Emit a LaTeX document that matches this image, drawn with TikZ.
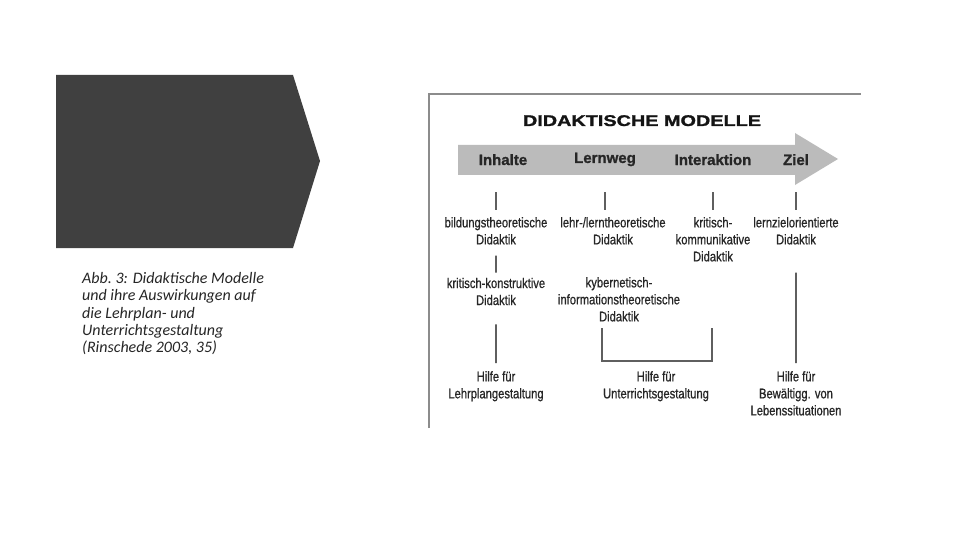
\documentclass[tikz,border=0pt]{standalone}
\usepackage{fontspec}
\setmainfont{Liberation Sans}
\newfontfamily\capfont{Carlito}
\newfontfamily\plainfont{Liberation Sans}[FakeBold=0.9]
\newfontfamily\heavyfont{Liberation Sans Bold}[FakeBold=1.2]
\usetikzlibrary{positioning}
\definecolor{panelgray}{RGB}{64, 64, 64}
\definecolor{arrowgray}{RGB}{187, 187, 187}
\definecolor{linegray}{RGB}{95, 95, 95}
\definecolor{framegray}{RGB}{140, 140, 140}
\definecolor{inkgray}{RGB}{38, 38, 38}

\begin{document}
\begin{tikzpicture}[
					x=1pt, y=-1pt,
					title/.style={anchor=base, inner sep=0pt, xscale=1.28, text=black!92,
						font=\heavyfont\fontsize{15.5}{18}\selectfont},
					lbl/.style={anchor=base, inner sep=0pt, text=inkgray,
						font=\heavyfont\fontsize{15}{18}\selectfont},
					txt/.style={anchor=north, align=center, inner sep=0pt, xscale=0.8,
						text=inkgray, font=\plainfont\fontsize{14}{17}\selectfont},
					link/.style={draw=linegray, line width=1.6pt},
					stem/.style={link, shorten <=17pt, shorten >=7pt}
					]
					\useasboundingbox[fill=white] (0,0) rectangle (960,540);
					
					% left panel and caption
					\fill[panelgray] (56,75) -- (293,75) -- (320,161) -- (293,248) -- (56,248) -- cycle;
					\node[anchor=north west, align=left, inner sep=0pt, text=black!85,
						font=\capfont\itshape\fontsize{16}{17.4}\selectfont] (capt) at (82,272)
						{Abb.\ 3: Didaktische Modelle\\und ihre Auswirkungen auf\\die Lehrplan- und\\Unterrichtsgestaltung\\(Rinschede 2003, 35)};
					
					% figure frame
					\draw[framegray, line width=1.5pt] (429,428) -- (429,94) -- (861,94);
					
					\node[title] (head) at (642,126) {DIDAKTISCHE MODELLE};
					
					% big arrow
					\fill[arrowgray] (458,145) -- (795,145) -- (795,133) -- (838,159)
						-- (795,185) -- (795,175) -- (458,175) -- cycle;
					\coordinate (base) at (458,175);
					
					\node[lbl] (inh)   at (503,165) {Inhalte};
					\node[lbl] (lern)  at (605,163) {Lernweg};
					\node[lbl] (inter) at (713,165) {Interaktion};
					\node[lbl] (ziel)  at (796,165) {Ziel};
					
					\node[txt] (bild)  at (496,217) {bildungstheoretische\\Didaktik};
					\node[txt] (lehr)  at (613,217) {lehr-/lerntheoretische\\Didaktik};
					\node[txt] (komm)  at (713,217) {kritisch-\\kommunikative\\Didaktik};
					\node[txt] (lernz) at (796,217) {lernzielorientierte\\Didaktik};
					
					\node[txt, below=33pt of bild] (kkon) {kritisch-konstruktive\\Didaktik};
					\node[txt] (kyb)   at (619,277) {kybernetisch-\\informationstheoretische\\Didaktik};
					
					\node[txt] (hlp)   at (496,371) {Hilfe für\\Lehrplangestaltung};
					\node[txt] (hun)   at (656,371) {Hilfe für\\Unterrichtsgestaltung};
					\node[txt] (hleb)  at (796,371) {Hilfe für\\Bewältigg. von\\Lebenssituationen};
					
					\draw[stem] (bild.north |- base) -- (bild.north);
					\draw[stem] (lern |- base) -- (lern |- lehr.north);
					\draw[stem] (inter |- base) -- (komm.north);
					\draw[stem] (ziel |- base) -- (lernz.north);
					
					\draw[link, shorten <=11pt, shorten >=5pt] (bild) -- (kkon);
					\draw[link, shorten <=19pt, shorten >=8pt] (kkon) -- (hlp);
					\draw[link, shorten <=28pt, shorten >=8pt] (lernz) -- (hleb);
					
					\coordinate (kl) at (602,328);
					\coordinate (kr) at (712,328);
					\draw[link] (kl) -- ++(0,33) -| (kr);
				\end{tikzpicture}
\end{document}
